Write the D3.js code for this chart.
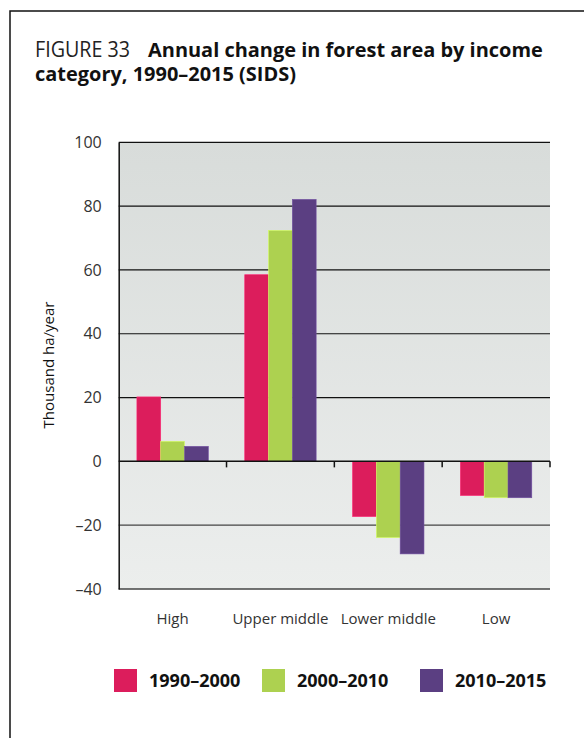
<!DOCTYPE html>
<html>
<head>
<meta charset="utf-8">
<script src="https://cdn.jsdelivr.net/npm/d3@7"></script>
<style>
  body { margin: 0; background: #fff; }
  svg { display: block; }
</style>
</head>
<body>
<div id="chart"></div>
<script>
// Données
var categories = ["High", "Upper middle", "Lower middle", "Low"];
var periods = ["1990–2000", "2000–2010", "2010–2015"];
var v1990 = [20.2, 58.5, -17.3, -10.7];
var v2000 = [6.3, 72.4, -23.9, -11.4];
var v2010 = [4.7, 82.1, -29, -11.4];
var yTicks = [100, 80, 60, 40, 20, 0, -20, -40];

var colors = ["#dc1d5c", "#add150", "#5b3f82"];

var width = 584, height = 738;
var pLeft = 118.7, pRight = 550, pTop = 142.3, pBottom = 589;

var svg = d3.select("#chart").append("svg")
	.attr("width", width)
	.attr("height", height);

// cadre
svg.append("path")
	.attr("d", "M584,11 H10 V738")
	.attr("fill", "none")
	.attr("stroke", "#111")
	.attr("stroke-width", 1.5);

// titre
var fig = svg.append("text")
	.attr("x", 35)
	.attr("y", 57)
	.attr("font-family", "'Open Sans', sans-serif")
	.attr("font-size", "22px")
	.attr("fill", "#222")
	.text("FIGURE 33");
// "FIGURE 33" est en police étroite sur l'original
var figW = fig.node().getComputedTextLength();
if (figW > 96) fig.attr("textLength", 95).attr("lengthAdjust", "spacingAndGlyphs");

var boldX = 148;
var bold1 = svg.append("text")
	.attr("x", boldX)
	.attr("y", 57)
	.attr("font-family", "'Open Sans', sans-serif")
	.attr("font-weight", "bold")
	.attr("font-size", "23px")
	.attr("fill", "#111")
	.text("Annual change in forest area by income");
// taille de police pour finir vers x=543
var fs = Math.min(23, 23 * (543 - boldX) / bold1.node().getComputedTextLength());
bold1.attr("font-size", fs + "px");
svg.append("text")
	.attr("x", 35)
	.attr("y", 81)
	.attr("font-size", fs + "px")
	.attr("font-family", "'Open Sans', sans-serif")
	.attr("font-weight", "bold")
	.attr("fill", "#111")
	.text("category, 1990–2015 (SIDS)");

// echelles
var x = d3.scaleBand().domain(categories).range([pLeft, pRight]);
var y = d3.scaleLinear().domain([-40, 100]).range([pBottom, pTop]);

// fond en dégradé
var grad = svg.append("defs").append("linearGradient")
	.attr("id", "bg")
	.attr("x1", 0).attr("y1", 0).attr("x2", 0).attr("y2", 1);
grad.append("stop").attr("offset", "0%").attr("stop-color", "#d8dcda");
grad.append("stop").attr("offset", "100%").attr("stop-color", "#eceeed");

svg.append("rect")
	.attr("x", pLeft)
	.attr("y", pTop)
	.attr("width", pRight - pLeft)
	.attr("height", pBottom - pTop)
	.attr("fill", "url(#bg)");

// grille
svg.selectAll(".grid")
	.data(yTicks.filter(d => d != 0 && d != -40 && d != 100))
	.enter()
	.append("line")
	.attr("x1", pLeft)
	.attr("x2", pRight)
	.attr("y1", d => y(d))
	.attr("y2", d => y(d))
	.attr("stroke", d => d > 0 ? "#111" : "#444")
	.attr("stroke-width", 1.2);

svg.append("line")
	.attr("x1", pLeft).attr("x2", pRight)
	.attr("y1", y(-40)).attr("y2", y(-40))
	.attr("stroke", "#444").attr("stroke-width", 1.5);

// barres
var series = [v1990, v2000, v2010];
var groupW = 71.4;
var inner = d3.scaleBand().domain(periods).range([0, groupW]);
var off = (x.bandwidth() - groupW) / 2;

series.forEach(function (vals, i) {
	svg.selectAll(".bar" + i)
		.data(vals)
		.enter()
		.append("rect")
		.attr("x", (d, j) => x(categories[j]) + off + inner(periods[i]))
		.attr("width", inner.bandwidth())
		.attr("y", d => y(Math.max(0, d)))
		.attr("height", d => Math.abs(y(d) - y(0)))
		.attr("fill", colors[i])
		.attr("stroke", d3.color(colors[i]).brighter(0.6))
		.attr("stroke-width", 0.6);
});

// axe zéro et ticks de catégorie
svg.append("line")
	.attr("x1", pLeft).attr("x2", pRight)
	.attr("y1", y(0)).attr("y2", y(0))
	.attr("stroke", "#111").attr("stroke-width", 1.5);
svg.selectAll(".xtick")
	.data(categories.slice(1).map(c => x(c)).concat([pRight]))
	.enter()
	.append("line")
	.attr("x1", d => d).attr("x2", d => d)
	.attr("y1", y(0)).attr("y2", y(0) + 6)
	.attr("stroke", "#111").attr("stroke-width", 1.5);

// axe y
var yAxis = d3.axisLeft(y).tickValues(yTicks).tickSize(0).tickPadding(17)
	.tickFormat(d => d < 0 ? "–" + Math.abs(d) : d);
var gy = svg.append("g")
	.attr("transform", "translate(" + pLeft + ",0)")
	.call(yAxis);
gy.select(".domain").attr("stroke", "#111").attr("stroke-width", 1.5);
gy.selectAll("text")
	.attr("font-size", "16px")
	.attr("font-family", "'Open Sans', sans-serif")
	.attr("fill", "#333");
svg.append("line")
	.attr("x1", pLeft).attr("x2", pRight)
	.attr("y1", pTop).attr("y2", pTop)
	.attr("stroke", "#111").attr("stroke-width", 1.2);

// titre axe y
svg.append("text")
	.attr("transform", "translate(54," + 365 + ")rotate(-90)")
	.attr("text-anchor", "middle")
	.attr("font-size", "15px")
	.attr("font-family", "'Open Sans', sans-serif")
	.attr("fill", "#111")
	.text("Thousand ha/year");

// libellés catégories
svg.selectAll(".cat")
	.data(categories)
	.enter()
	.append("text")
	.attr("x", d => x(d) + x.bandwidth() / 2)
	.attr("y", 624)
	.attr("text-anchor", "middle")
	.attr("font-size", "15px")
	.attr("font-family", "'Open Sans', sans-serif")
	.attr("fill", "#333")
	.text(d => d);

// légende
var legX = [114, 262, 420];
var leg = svg.selectAll(".leg")
	.data(periods)
	.enter()
	.append("g")
	.attr("transform", (d, i) => "translate(" + legX[i] + ",669)");
leg.append("rect")
	.attr("width", 23)
	.attr("height", 23)
	.attr("fill", (d, i) => colors[i]);
leg.append("text")
	.attr("x", 35)
	.attr("y", 18)
	.attr("font-size", "18px")
	.attr("font-weight", "bold")
	.attr("font-family", "'Open Sans', sans-serif")
	.attr("fill", "#111")
	.text(d => d);
</script>
</body>
</html>
